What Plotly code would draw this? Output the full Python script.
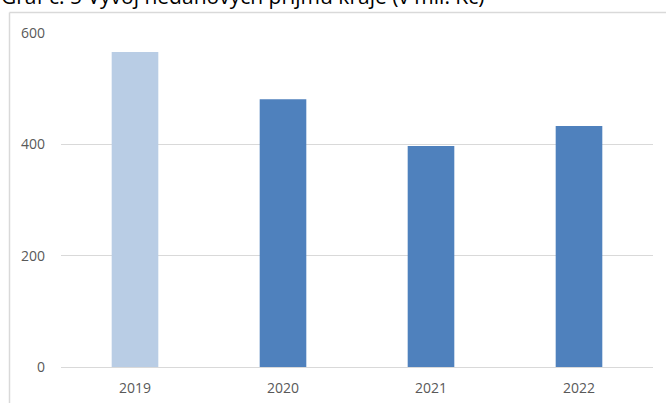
import plotly.graph_objects as go

years = ["2019", "2020", "2021", "2022"]
values = [566, 481, 397, 433]
bar_colors = ["#B9CDE5", "#4F81BD", "#4F81BD", "#4F81BD"]
y_ticks = [0, 200, 400, 600]
title_text = "Graf č. 5 Vývoj nedaňových příjmů kraje (v mil. Kč)"

W, H = 666, 403
L, R, T, B = 61, 13, 33, 36
pw, ph = W - L - R, H - T - B

def px_x(p):
    return (p - L) / pw

def px_y(p):
    return (H - B - p) / ph

fig = go.Figure(go.Bar(
    x=years, y=values, marker=dict(color=bar_colors, line=dict(width=0)),
    width=0.315, hoverinfo="x+y",
))

frame_col = "#D9D9D9"
tick_font = dict(family="Open Sans", size=14, color="#595959")
fig.update_layout(
    width=W, height=H, margin=dict(l=L, r=R, t=T, b=B, autoexpand=False),
    paper_bgcolor="white", plot_bgcolor="white", showlegend=False,
    font=tick_font,
    xaxis=dict(showgrid=False, showline=False, ticks="", tickfont=tick_font,
               ticklabelstandoff=11, automargin=False),
    yaxis=dict(range=[0, 600], tickvals=y_ticks, showgrid=True, gridcolor=frame_col, gridwidth=1,
               zeroline=True, zerolinecolor=frame_col, zerolinewidth=1, showline=False,
               ticks="", ticklabelstandoff=15, tickfont=tick_font, automargin=False),
    shapes=[
        dict(type="line", xref="paper", yref="paper", x0=px_x(9.5), x1=px_x(700), y0=px_y(12.5), y1=px_y(12.5),
             line=dict(color=frame_col, width=1.5)),
        dict(type="line", xref="paper", yref="paper", x0=px_x(9.5), x1=px_x(9.5), y0=px_y(12.5), y1=px_y(450),
             line=dict(color=frame_col, width=1.5)),
    ],
    annotations=[dict(text=title_text, xref="paper", yref="paper", x=px_x(-1), y=px_y(-4.5),
                      xanchor="left", yanchor="middle", showarrow=False,
                      font=dict(family="Open Sans", size=21, color="#000000"))],
)

fig.write_html("out.html", config={"displayModeBar": False},
               post_script="document.body.style.margin='0';document.body.style.overflow='hidden';")
